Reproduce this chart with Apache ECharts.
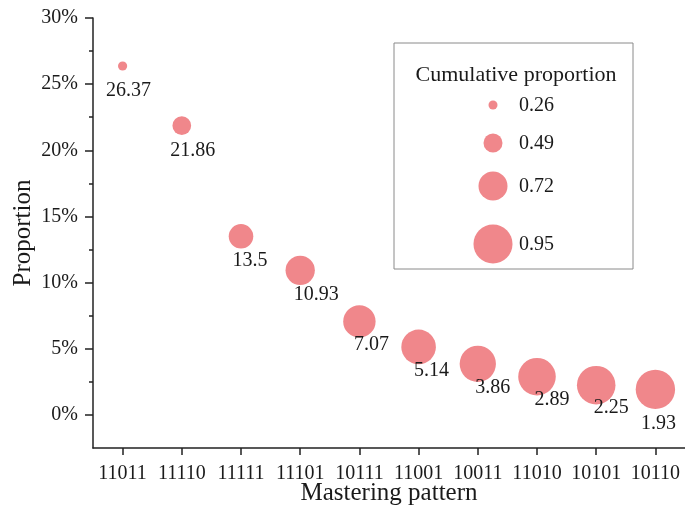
<!DOCTYPE html>
<html>
<head>
<meta charset="utf-8">
<script src="https://cdn.jsdelivr.net/npm/echarts@6/dist/echarts.min.js"></script>
<style>
  html, body { margin: 0; padding: 0; background: #fff; }
  #chart { width: 685px; height: 515px; }
</style>
</head>
<body>
<div id="chart"></div>
<script>
// Mastering patterns, ordered by share of learners
const patterns = ['11011', '11110', '11111', '11101', '10111', '11001', '10011', '11010', '10101', '10110'];
// Proportion of learners (%) per pattern
const proportions = [26.37, 21.86, 13.5, 10.93, 7.07, 5.14, 3.86, 2.89, 2.25, 1.93];
// Running cumulative proportion (fraction) used for bubble size
const cumulative = [0.2637, 0.4823, 0.6173, 0.7266, 0.7973, 0.8487, 0.8873, 0.9162, 0.9387, 0.958];
// Size-legend reference values
const legendValues = [0.26, 0.49, 0.72, 0.95];
// Y tick labels (%)
const yMajorTicks = [0, 5, 10, 15, 20, 25, 30];
const yMinorTicks = [2.5, 7.5, 12.5, 17.5, 22.5, 27.5];

// label nudges relative to bubble centre (layout only)
const labelNudge = [[6, 25], [11, 25], [9, 24], [16, 24], [12, 23], [13, 24], [15, 24], [15, 23], [15, 23], [3, 34]];

const FONT = '"Liberation Serif", "Times New Roman", serif';
const INK = '#1a1a1a';
const BUBBLE = '#F0878B';

function bubbleDiameter(c) {
  return Math.max(4, 43.5 * c - 2.3);
}

const seriesData = patterns.map((p, i) => ({
  value: [p, proportions[i], cumulative[i]],
  label: { offset: labelNudge[i] }
}));

// size legend built from the same size function
const legendTop = 43, legendLeft = 394, legendW = 239, legendH = 226;
const legendRows = [105, 143, 186, 244];
const legendGraphics = [
  {
    type: 'rect',
    shape: { x: legendLeft, y: legendTop, width: legendW, height: legendH },
    style: { fill: '#fff', stroke: '#8a8a8a', lineWidth: 1 },
    z: 10
  },
  {
    type: 'text',
    x: 516, y: 75,
    style: { text: 'Cumulative proportion', font: '22px ' + FONT, fill: INK, align: 'center', verticalAlign: 'middle' },
    z: 11
  }
];
legendValues.forEach((v, i) => {
  legendGraphics.push({
    type: 'circle',
    shape: { cx: 493, cy: legendRows[i], r: bubbleDiameter(v) / 2 },
    style: { fill: BUBBLE },
    z: 11
  });
  legendGraphics.push({
    type: 'text',
    x: 519, y: legendRows[i] + 1,
    style: { text: v.toFixed(2), font: '20px ' + FONT, fill: INK, align: 'left', verticalAlign: 'middle' },
    z: 11
  });
});

const axisLineStyle = { color: '#222', width: 1.5 };

const option = {
  backgroundColor: '#fff',
  animation: false,
  textStyle: { fontFamily: FONT },
  grid: { left: 93, top: 18, right: -2, bottom: 67, containLabel: false },
  xAxis: {
    type: 'category',
    data: patterns,
    boundaryGap: true,
    name: 'Mastering pattern',
    nameLocation: 'middle',
    nameGap: 33,
    nameMoveOverlap: false,
    nameTextStyle: { fontSize: 25, color: INK, fontFamily: FONT },
    axisLine: { show: true, onZero: false, lineStyle: axisLineStyle },
    axisTick: { show: true, alignWithLabel: true, length: 7, lineStyle: axisLineStyle },
    axisLabel: { fontSize: 20, color: INK, fontFamily: FONT, margin: 16, interval: 0 },
    splitLine: { show: false }
  },
  yAxis: [
    {
      type: 'value',
      min: -2.5,
      max: 30,
      interval: 2.5,
      name: 'Proportion',
      nameLocation: 'middle',
      nameRotate: 90,
      nameGap: 57,
      nameMoveOverlap: false,
      nameTextStyle: { fontSize: 25, color: INK, fontFamily: FONT },
      axisLine: { show: true, onZero: false, lineStyle: axisLineStyle },
      axisTick: { show: true, length: 8, customValues: yMajorTicks, lineStyle: axisLineStyle },
      axisLabel: {
        fontSize: 20, color: INK, fontFamily: FONT, margin: 15,
        customValues: yMajorTicks,
        formatter: v => v + '%'
      },
      splitLine: { show: false }
    },
    {
      type: 'value',
      min: -2.5,
      max: 30,
      interval: 2.5,
      position: 'left',
      axisLine: { show: false, onZero: false },
      axisTick: { show: true, length: 4, customValues: yMinorTicks, lineStyle: axisLineStyle },
      axisLabel: { show: false },
      splitLine: { show: false }
    }
  ],
  series: [
    {
      type: 'scatter',
      xAxisIndex: 0,
      yAxisIndex: 0,
      data: seriesData,
      symbol: 'circle',
      symbolSize: val => bubbleDiameter(val[2]),
      itemStyle: { color: BUBBLE, opacity: 1 },
      label: {
        show: true,
        position: 'inside',
        formatter: p => String(p.value[1]),
        fontSize: 20,
        color: INK,
        fontFamily: FONT
      },
      z: 3
    }
  ],
  graphic: legendGraphics
};

const chart = echarts.init(document.getElementById('chart'), null, { renderer: 'canvas' });
chart.setOption(option);
</script>
</body>
</html>
